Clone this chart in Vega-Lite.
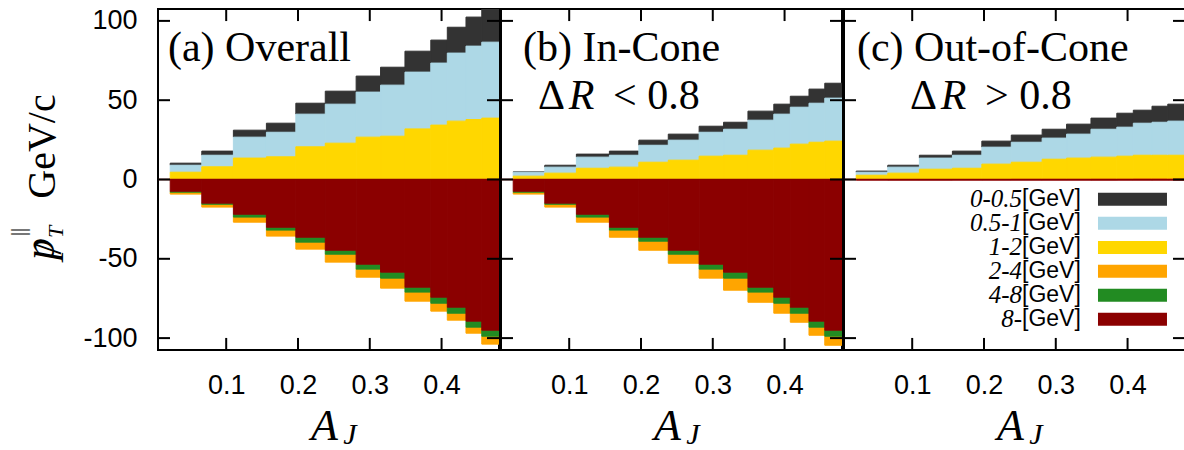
{
  "$schema": "https://vega.github.io/schema/vega-lite/v6.json",
  "padding": {"left": 7, "top": 5, "right": 0, "bottom": 0},
  "datasets": {
    "hist": [
      {"p":"a","lo":0.022,"hi":0.066,"pt1":1.3,"pt2":4.4,"pt3":4.6,"pt4":-1.2,"pt5":-0.6,"pt6":-7.4},
      {"p":"a","lo":0.066,"hi":0.110,"pt1":2.6,"pt2":7.3,"pt3":8.0,"pt4":-1.8,"pt5":-0.7,"pt6":-14.9},
      {"p":"a","lo":0.110,"hi":0.156,"pt1":4.4,"pt2":13.2,"pt3":13.5,"pt4":-3.2,"pt5":-1.8,"pt6":-21.9},
      {"p":"a","lo":0.156,"hi":0.197,"pt1":5.7,"pt2":15.5,"pt3":14.3,"pt4":-3.8,"pt5":-1.8,"pt6":-30.1},
      {"p":"a","lo":0.197,"hi":0.238,"pt1":6.9,"pt2":20.6,"pt3":20.6,"pt4":-4.4,"pt5":-3.1,"pt6":-36.4},
      {"p":"a","lo":0.238,"hi":0.281,"pt1":8.2,"pt2":24.6,"pt3":22.9,"pt4":-5.0,"pt5":-2.5,"pt6":-44.6},
      {"p":"a","lo":0.281,"hi":0.315,"pt1":10.1,"pt2":28.4,"pt3":26.7,"pt4":-5.1,"pt5":-3.1,"pt6":-53.4},
      {"p":"a","lo":0.315,"hi":0.349,"pt1":11.3,"pt2":32.2,"pt3":27.3,"pt4":-6.3,"pt5":-3.8,"pt6":-58.4},
      {"p":"a","lo":0.349,"hi":0.385,"pt1":13.2,"pt2":35.8,"pt3":31.9,"pt4":-5.7,"pt5":-3.1,"pt6":-67.9},
      {"p":"a","lo":0.385,"hi":0.408,"pt1":14.5,"pt2":39.1,"pt3":34.3,"pt4":-5.0,"pt5":-3.8,"pt6":-74.2},
      {"p":"a","lo":0.408,"hi":0.434,"pt1":16.3,"pt2":42.9,"pt3":36.8,"pt4":-4.4,"pt5":-3.8,"pt6":-80.5},
      {"p":"a","lo":0.434,"hi":0.456,"pt1":18.3,"pt2":46.3,"pt3":37.8,"pt4":-3.8,"pt5":-3.8,"pt6":-89.3},
      {"p":"a","lo":0.456,"hi":0.480,"pt1":21.4,"pt2":47.9,"pt3":38.7,"pt4":-5.0,"pt5":-3.8,"pt6":-95.0},
      {"p":"b","lo":0.022,"hi":0.066,"pt1":0.2,"pt2":2.5,"pt3":2.1,"pt4":-1.2,"pt5":-0.6,"pt6":-7.4},
      {"p":"b","lo":0.066,"hi":0.110,"pt1":1.2,"pt2":3.8,"pt3":4.0,"pt4":-1.8,"pt5":-0.7,"pt6":-14.9},
      {"p":"b","lo":0.110,"hi":0.156,"pt1":1.9,"pt2":7.0,"pt3":7.1,"pt4":-3.2,"pt5":-1.8,"pt6":-21.9},
      {"p":"b","lo":0.156,"hi":0.197,"pt1":2.6,"pt2":7.5,"pt3":7.8,"pt4":-4.5,"pt5":-1.8,"pt6":-30.1},
      {"p":"b","lo":0.197,"hi":0.238,"pt1":3.2,"pt2":10.7,"pt3":10.9,"pt4":-5.7,"pt5":-2.5,"pt6":-36.4},
      {"p":"b","lo":0.238,"hi":0.281,"pt1":3.8,"pt2":12.6,"pt3":12.2,"pt4":-5.7,"pt5":-2.5,"pt6":-44.6},
      {"p":"b","lo":0.281,"hi":0.315,"pt1":3.8,"pt2":15.1,"pt3":14.7,"pt4":-5.7,"pt5":-3.1,"pt6":-53.4},
      {"p":"b","lo":0.315,"hi":0.349,"pt1":4.4,"pt2":16.4,"pt3":15.3,"pt4":-7.6,"pt5":-3.8,"pt6":-58.4},
      {"p":"b","lo":0.349,"hi":0.385,"pt1":5.7,"pt2":18.9,"pt3":18.5,"pt4":-6.4,"pt5":-3.1,"pt6":-67.9},
      {"p":"b","lo":0.385,"hi":0.408,"pt1":6.3,"pt2":21.4,"pt3":19.8,"pt4":-6.3,"pt5":-3.8,"pt6":-74.2},
      {"p":"b","lo":0.408,"hi":0.434,"pt1":6.9,"pt2":23.3,"pt3":22.3,"pt4":-5.7,"pt5":-3.8,"pt6":-80.5},
      {"p":"b","lo":0.434,"hi":0.456,"pt1":8.9,"pt2":24.6,"pt3":23.5,"pt4":-5.1,"pt5":-3.8,"pt6":-89.3},
      {"p":"b","lo":0.456,"hi":0.480,"pt1":9.4,"pt2":27.1,"pt3":24.2,"pt4":-5.7,"pt5":-3.8,"pt6":-95.0},
      {"p":"c","lo":0.022,"hi":0.066,"pt1":0.7,"pt2":1.9,"pt3":2.7,"pt4":0,"pt5":0,"pt6":-0.4},
      {"p":"c","lo":0.066,"hi":0.110,"pt1":1.2,"pt2":3.8,"pt3":4.0,"pt4":0,"pt5":0,"pt6":-0.4},
      {"p":"c","lo":0.110,"hi":0.156,"pt1":1.8,"pt2":7.0,"pt3":6.5,"pt4":0,"pt5":0,"pt6":-0.4},
      {"p":"c","lo":0.156,"hi":0.197,"pt1":2.6,"pt2":8.2,"pt3":7.1,"pt4":0,"pt5":0,"pt6":-0.4},
      {"p":"c","lo":0.197,"hi":0.238,"pt1":3.8,"pt2":10.7,"pt3":9.7,"pt4":0,"pt5":0,"pt6":-0.4},
      {"p":"c","lo":0.238,"hi":0.281,"pt1":4.5,"pt2":12.6,"pt3":10.7,"pt4":0.2,"pt5":0,"pt6":-0.4},
      {"p":"c","lo":0.281,"hi":0.315,"pt1":5.6,"pt2":13.3,"pt3":12.6,"pt4":0.2,"pt5":0,"pt6":-0.4},
      {"p":"c","lo":0.315,"hi":0.349,"pt1":6.3,"pt2":15.1,"pt3":13.3,"pt4":0.2,"pt5":0,"pt6":-0.4},
      {"p":"c","lo":0.349,"hi":0.385,"pt1":7.0,"pt2":17.6,"pt3":13.8,"pt4":0.3,"pt5":0,"pt6":-0.4},
      {"p":"c","lo":0.385,"hi":0.408,"pt1":8.8,"pt2":18.3,"pt3":14.4,"pt4":0.3,"pt5":0,"pt6":-0.4},
      {"p":"c","lo":0.408,"hi":0.434,"pt1":8.2,"pt2":20.2,"pt3":14.8,"pt4":0.5,"pt5":0,"pt6":-0.4},
      {"p":"c","lo":0.434,"hi":0.456,"pt1":10.1,"pt2":20.8,"pt3":14.8,"pt4":0.5,"pt5":0,"pt6":-0.4},
      {"p":"c","lo":0.456,"hi":0.480,"pt1":10.7,"pt2":21.5,"pt3":15.0,"pt4":0.3,"pt5":0,"pt6":-0.4}
    ],
    "xticks": [{"t":0.1},{"t":0.2},{"t":0.3},{"t":0.4}],
    "yticks": [{"t":-100},{"t":-50},{"t":0},{"t":50},{"t":100}],
    "one": [{}]
  },
  "spacing": -4,
  "hconcat": [
    {
      "width": 341, "height": 341,
      "layer": [
        {
          "data": {"name": "hist"},
          "transform": [
            {"filter": "datum.p == 'a'"},
            {"fold": ["pt1","pt2","pt3","pt4","pt5","pt6"], "as": ["bin","v"]},
            {"stack": "v", "groupby": ["lo"], "sort": [{"field": "bin", "order": "descending"}], "offset": "zero", "as": ["v0","v1"]}
          ],
          "mark": {"type": "bar", "clip": true, "strokeWidth": 1},
          "encoding": {
            "x": {"field": "lo", "type": "quantitative", "scale": {"domain": [0.005, 0.48], "nice": false, "zero": false},
                  "axis": {"values": [0.1,0.2,0.3,0.4], "format": ".1f", "title": "A",
                           "titleFont": "Liberation Serif", "titleFontStyle": "italic", "titleFontSize": 44,
                           "titleX": 166, "titleY": 89, "titleAlign": "center", "titleBaseline": "alphabetic", "titleAngle": 0}},
            "x2": {"field": "hi"},
            "y": {"field": "v0", "type": "quantitative", "scale": {"domain": [-107.5, 107.5], "nice": false, "zero": false},
                  "axis": {"values": [-100,-50,0,50,100], "labelExpr": "'' + datum.value", "title": "GeV/c",
                           "titleFont": "Liberation Serif", "titleFontSize": 40, "titleAngle": -90,
                           "titleX": -104, "titleY": 137, "titleAlign": "center", "titleBaseline": "alphabetic"}},
            "y2": {"field": "v1"},
            "color": {"field": "bin", "type": "nominal", "legend": null,
                      "scale": {"domain": ["pt1","pt2","pt3","pt4","pt5","pt6"], "range": ["#333333","#add8e6","#ffd700","#ffa500","#228b22","#8b0000"]}},
            "stroke": {"field": "bin", "type": "nominal", "legend": null,
                      "scale": {"domain": ["pt1","pt2","pt3","pt4","pt5","pt6"], "range": ["#333333","#add8e6","#ffd700","#ffa500","#228b22","#8b0000"]}}
          }
        },
        {"data": {"name": "one"}, "mark": {"type": "rule", "color": "#8b0000", "strokeWidth": 1.5},
         "encoding": {"y": {"datum": 0, "type": "quantitative"}}},
        {"data": {"name": "xticks"}, "mark": {"type": "rule", "color": "black", "strokeWidth": 2},
         "encoding": {"x": {"field": "t", "type": "quantitative"}, "y": {"datum": 107.5, "type": "quantitative"}, "y2": {"datum": 99.9}}},
        {"data": {"name": "xticks"}, "mark": {"type": "rule", "color": "black", "strokeWidth": 2},
         "encoding": {"x": {"field": "t", "type": "quantitative"}, "y": {"datum": -107.5, "type": "quantitative"}, "y2": {"datum": -99.9}}},
        {"data": {"name": "yticks"}, "mark": {"type": "rule", "color": "black", "strokeWidth": 2},
         "encoding": {"y": {"field": "t", "type": "quantitative"}, "x": {"datum": 0.005, "type": "quantitative"}, "x2": {"datum": 0.0217}}},
        {"data": {"name": "yticks"}, "mark": {"type": "rule", "color": "black", "strokeWidth": 2},
         "encoding": {"y": {"field": "t", "type": "quantitative"}, "x": {"datum": 0.48, "type": "quantitative"}, "x2": {"datum": 0.4633}}},
        {"data": {"name": "one"}, "mark": {"type": "text", "text": "(a) Overall"},
         "encoding": {"x": {"datum": 0.0189, "type": "quantitative"}, "y": {"datum": 74.7, "type": "quantitative"}}},
        {"data": {"name": "one"}, "mark": {"type": "text", "text": "J", "fontStyle": "italic", "fontSize": 30, "align": "center"},
         "encoding": {"x": {"datum": 0.2724, "type": "quantitative"}, "y": {"datum": -166.8, "type": "quantitative"}}},
        {"data": {"name": "one"}, "mark": {"type": "text", "text": "p", "fontStyle": "italic", "fontSize": 44, "align": "center", "angle": -90},
         "encoding": {"x": {"datum": -0.1399, "type": "quantitative"}, "y": {"datum": -43.8, "type": "quantitative"}}},
        {"data": {"name": "one"}, "mark": {"type": "text", "text": "/", "fontSize": 40, "align": "center", "angle": -90},
         "encoding": {"x": {"datum": -0.1301, "type": "quantitative"}, "y": {"datum": -43.8, "type": "quantitative"}}},
        {"data": {"name": "one"}, "mark": {"type": "text", "text": "T", "fontStyle": "italic", "fontSize": 22, "align": "center", "angle": -90},
         "encoding": {"x": {"datum": -0.1273, "type": "quantitative"}, "y": {"datum": -33.1, "type": "quantitative"}}},
        {"data": {"name": "one"}, "mark": {"type": "text", "text": "||", "fontSize": 20, "align": "center", "angle": -90},
         "encoding": {"x": {"datum": -0.1803, "type": "quantitative"}, "y": {"datum": -33.1, "type": "quantitative"}}}
      ]
    },
    {
      "width": 341, "height": 341,
      "layer": [
        {
          "data": {"name": "hist"},
          "transform": [
            {"filter": "datum.p == 'b'"},
            {"fold": ["pt1","pt2","pt3","pt4","pt5","pt6"], "as": ["bin","v"]},
            {"stack": "v", "groupby": ["lo"], "sort": [{"field": "bin", "order": "descending"}], "offset": "zero", "as": ["v0","v1"]}
          ],
          "mark": {"type": "bar", "clip": true, "strokeWidth": 1},
          "encoding": {
            "x": {"field": "lo", "type": "quantitative", "scale": {"domain": [0.005, 0.48], "nice": false, "zero": false},
                  "axis": {"values": [0.1,0.2,0.3,0.4], "format": ".1f", "title": "A",
                           "titleFont": "Liberation Serif", "titleFontStyle": "italic", "titleFontSize": 44,
                           "titleX": 166, "titleY": 89, "titleAlign": "center", "titleBaseline": "alphabetic", "titleAngle": 0}},
            "x2": {"field": "hi"},
            "y": {"field": "v0", "type": "quantitative", "scale": {"domain": [-107.5, 107.5], "nice": false, "zero": false}, "axis": null},
            "y2": {"field": "v1"},
            "color": {"field": "bin", "type": "nominal", "legend": null,
                      "scale": {"domain": ["pt1","pt2","pt3","pt4","pt5","pt6"], "range": ["#333333","#add8e6","#ffd700","#ffa500","#228b22","#8b0000"]}},
            "stroke": {"field": "bin", "type": "nominal", "legend": null,
                      "scale": {"domain": ["pt1","pt2","pt3","pt4","pt5","pt6"], "range": ["#333333","#add8e6","#ffd700","#ffa500","#228b22","#8b0000"]}}
          }
        },
        {"data": {"name": "one"}, "mark": {"type": "rule", "color": "#8b0000", "strokeWidth": 1.5},
         "encoding": {"y": {"datum": 0, "type": "quantitative"}}},
        {"data": {"name": "xticks"}, "mark": {"type": "rule", "color": "black", "strokeWidth": 2},
         "encoding": {"x": {"field": "t", "type": "quantitative"}, "y": {"datum": 107.5, "type": "quantitative"}, "y2": {"datum": 99.9}}},
        {"data": {"name": "xticks"}, "mark": {"type": "rule", "color": "black", "strokeWidth": 2},
         "encoding": {"x": {"field": "t", "type": "quantitative"}, "y": {"datum": -107.5, "type": "quantitative"}, "y2": {"datum": -99.9}}},
        {"data": {"name": "yticks"}, "mark": {"type": "rule", "color": "black", "strokeWidth": 2},
         "encoding": {"y": {"field": "t", "type": "quantitative"}, "x": {"datum": 0.005, "type": "quantitative"}, "x2": {"datum": 0.0217}}},
        {"data": {"name": "yticks"}, "mark": {"type": "rule", "color": "black", "strokeWidth": 2},
         "encoding": {"y": {"field": "t", "type": "quantitative"}, "x": {"datum": 0.48, "type": "quantitative"}, "x2": {"datum": 0.4633}}},
        {"data": {"name": "one"}, "mark": {"type": "text", "text": "(b) In-Cone"},
         "encoding": {"x": {"datum": 0.0356, "type": "quantitative"}, "y": {"datum": 74.7, "type": "quantitative"}}},
        {"data": {"name": "one"}, "mark": {"type": "text", "text": "Δ"},
         "encoding": {"x": {"datum": 0.0565, "type": "quantitative"}, "y": {"datum": 44.5, "type": "quantitative"}}},
        {"data": {"name": "one"}, "mark": {"type": "text", "text": "R", "fontStyle": "italic"},
         "encoding": {"x": {"datum": 0.0995, "type": "quantitative"}, "y": {"datum": 44.5, "type": "quantitative"}}},
        {"data": {"name": "one"}, "mark": {"type": "text", "text": "< 0.8"},
         "encoding": {"x": {"datum": 0.161, "type": "quantitative"}, "y": {"datum": 44.5, "type": "quantitative"}}},
        {"data": {"name": "one"}, "mark": {"type": "text", "text": "J", "fontStyle": "italic", "fontSize": 30, "align": "center"},
         "encoding": {"x": {"datum": 0.2724, "type": "quantitative"}, "y": {"datum": -166.8, "type": "quantitative"}}}
      ]
    },
    {
      "width": 341, "height": 341,
      "layer": [
        {
          "data": {"name": "hist"},
          "transform": [
            {"filter": "datum.p == 'c'"},
            {"fold": ["pt1","pt2","pt3","pt4","pt5","pt6"], "as": ["bin","v"]},
            {"stack": "v", "groupby": ["lo"], "sort": [{"field": "bin", "order": "descending"}], "offset": "zero", "as": ["v0","v1"]}
          ],
          "mark": {"type": "bar", "clip": true, "strokeWidth": 1},
          "encoding": {
            "x": {"field": "lo", "type": "quantitative", "scale": {"domain": [0.005, 0.48], "nice": false, "zero": false},
                  "axis": {"values": [0.1,0.2,0.3,0.4], "format": ".1f", "title": "A",
                           "titleFont": "Liberation Serif", "titleFontStyle": "italic", "titleFontSize": 44,
                           "titleX": 166, "titleY": 89, "titleAlign": "center", "titleBaseline": "alphabetic", "titleAngle": 0}},
            "x2": {"field": "hi"},
            "y": {"field": "v0", "type": "quantitative", "scale": {"domain": [-107.5, 107.5], "nice": false, "zero": false}, "axis": null},
            "y2": {"field": "v1"},
            "color": {"field": "bin", "type": "nominal", "legend": null,
                      "scale": {"domain": ["pt1","pt2","pt3","pt4","pt5","pt6"], "range": ["#333333","#add8e6","#ffd700","#ffa500","#228b22","#8b0000"]}},
            "stroke": {"field": "bin", "type": "nominal", "legend": null,
                      "scale": {"domain": ["pt1","pt2","pt3","pt4","pt5","pt6"], "range": ["#333333","#add8e6","#ffd700","#ffa500","#228b22","#8b0000"]}}
          }
        },
        {"data": {"name": "one"}, "mark": {"type": "rule", "color": "#8b0000", "strokeWidth": 1.5},
         "encoding": {"y": {"datum": 0, "type": "quantitative"}}},
        {"data": {"name": "xticks"}, "mark": {"type": "rule", "color": "black", "strokeWidth": 2},
         "encoding": {"x": {"field": "t", "type": "quantitative"}, "y": {"datum": 107.5, "type": "quantitative"}, "y2": {"datum": 99.9}}},
        {"data": {"name": "xticks"}, "mark": {"type": "rule", "color": "black", "strokeWidth": 2},
         "encoding": {"x": {"field": "t", "type": "quantitative"}, "y": {"datum": -107.5, "type": "quantitative"}, "y2": {"datum": -99.9}}},
        {"data": {"name": "yticks"}, "mark": {"type": "rule", "color": "black", "strokeWidth": 2},
         "encoding": {"y": {"field": "t", "type": "quantitative"}, "x": {"datum": 0.005, "type": "quantitative"}, "x2": {"datum": 0.0217}}},
        {"data": {"name": "yticks"}, "mark": {"type": "rule", "color": "black", "strokeWidth": 2},
         "encoding": {"y": {"field": "t", "type": "quantitative"}, "x": {"datum": 0.48, "type": "quantitative"}, "x2": {"datum": 0.4633}}},
        {"data": {"name": "one"}, "mark": {"type": "text", "text": "(c) Out-of-Cone"},
         "encoding": {"x": {"datum": 0.0231, "type": "quantitative"}, "y": {"datum": 74.7, "type": "quantitative"}}},
        {"data": {"name": "one"}, "mark": {"type": "text", "text": "Δ"},
         "encoding": {"x": {"datum": 0.0969, "type": "quantitative"}, "y": {"datum": 44.5, "type": "quantitative"}}},
        {"data": {"name": "one"}, "mark": {"type": "text", "text": "R", "fontStyle": "italic"},
         "encoding": {"x": {"datum": 0.1399, "type": "quantitative"}, "y": {"datum": 44.5, "type": "quantitative"}}},
        {"data": {"name": "one"}, "mark": {"type": "text", "text": "> 0.8"},
         "encoding": {"x": {"datum": 0.2014, "type": "quantitative"}, "y": {"datum": 44.5, "type": "quantitative"}}},
        {"data": {"name": "one"}, "mark": {"type": "text", "text": "J", "fontStyle": "italic", "fontSize": 30, "align": "center"},
         "encoding": {"x": {"datum": 0.2724, "type": "quantitative"}, "y": {"datum": -166.8, "type": "quantitative"}}},
        {"data": {"name": "one"}, "mark": {"type": "text", "text": ["0-0.5","0.5-1","1-2","2-4","4-8","8-"], "align": "right", "baseline": "middle", "fontStyle": "italic", "fontSize": 25, "lineHeight": 24},
         "encoding": {"x": {"datum": 0.253, "type": "quantitative"}, "y": {"datum": -12.5, "type": "quantitative"}}},
        {"data": {"name": "one"}, "mark": {"type": "text", "text": ["[GeV]","[GeV]","[GeV]","[GeV]","[GeV]","[GeV]"], "align": "left", "baseline": "middle", "font": "Liberation Sans", "fontSize": 23, "lineHeight": 24},
         "encoding": {"x": {"datum": 0.253, "type": "quantitative"}, "y": {"datum": -12.5, "type": "quantitative"}}},
        {"data": {"name": "one"}, "mark": {"type": "rule", "strokeWidth": 13, "color": "#333333"},
         "encoding": {"x": {"datum": 0.3588, "type": "quantitative"}, "x2": {"datum": 0.4549}, "y": {"datum": -12.5, "type": "quantitative"}}},
        {"data": {"name": "one"}, "mark": {"type": "rule", "strokeWidth": 13, "color": "#add8e6"},
         "encoding": {"x": {"datum": 0.3588, "type": "quantitative"}, "x2": {"datum": 0.4549}, "y": {"datum": -27.6, "type": "quantitative"}}},
        {"data": {"name": "one"}, "mark": {"type": "rule", "strokeWidth": 13, "color": "#ffd700"},
         "encoding": {"x": {"datum": 0.3588, "type": "quantitative"}, "x2": {"datum": 0.4549}, "y": {"datum": -42.8, "type": "quantitative"}}},
        {"data": {"name": "one"}, "mark": {"type": "rule", "strokeWidth": 13, "color": "#ffa500"},
         "encoding": {"x": {"datum": 0.3588, "type": "quantitative"}, "x2": {"datum": 0.4549}, "y": {"datum": -57.9, "type": "quantitative"}}},
        {"data": {"name": "one"}, "mark": {"type": "rule", "strokeWidth": 13, "color": "#228b22"},
         "encoding": {"x": {"datum": 0.3588, "type": "quantitative"}, "x2": {"datum": 0.4549}, "y": {"datum": -73.0, "type": "quantitative"}}},
        {"data": {"name": "one"}, "mark": {"type": "rule", "strokeWidth": 13, "color": "#8b0000"},
         "encoding": {"x": {"datum": 0.3588, "type": "quantitative"}, "x2": {"datum": 0.4549}, "y": {"datum": -88.1, "type": "quantitative"}}}
      ]
    }
  ],
  "config": {
    "view": {"stroke": "black", "strokeWidth": 2},
    "axis": {
      "grid": false, "domain": false, "ticks": false,
      "labelFont": "Liberation Sans", "labelFontSize": 27, "labelColor": "black",
      "titleColor": "black", "titleFontWeight": "normal"
    },
    "axisX": {"labelPadding": 22},
    "axisY": {"labelPadding": 21},
    "text": {"font": "Liberation Serif", "fontSize": 42, "align": "left", "baseline": "alphabetic", "color": "black"}
  }
}
